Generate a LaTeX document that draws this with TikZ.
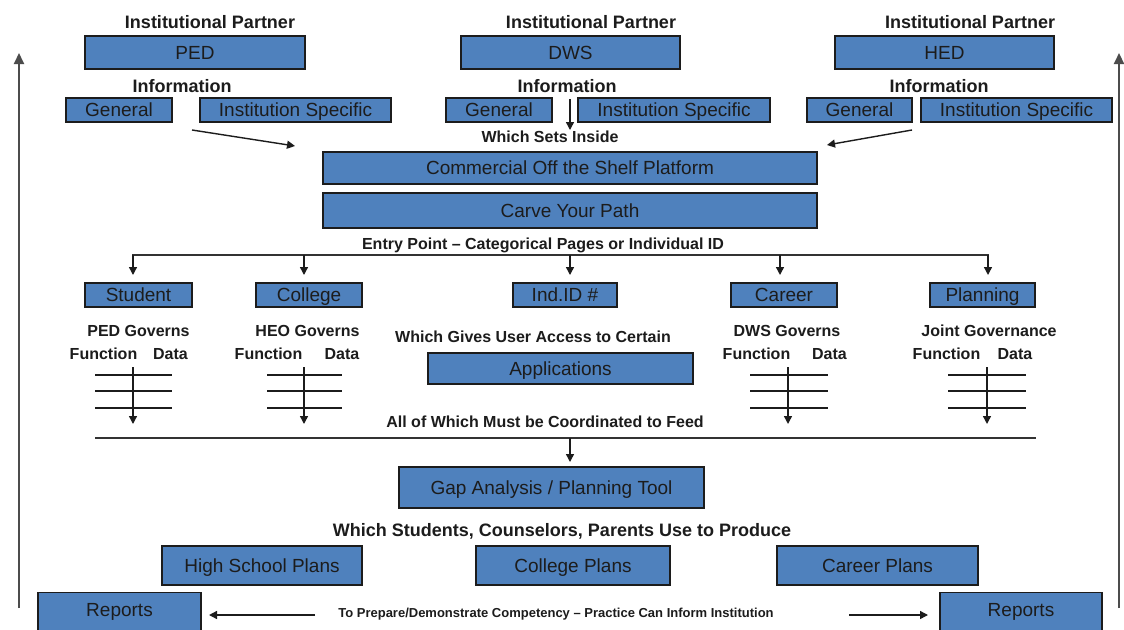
\documentclass[tikz,border=0pt]{standalone}
\usepackage{fontspec}
\setmainfont{Liberation Sans}
\usetikzlibrary{arrows.meta}
\definecolor{boxblue}{RGB}{79,129,189}
\definecolor{ink}{RGB}{28,28,28}
\begin{document}
\begin{tikzpicture}[x=1pt,y=-1pt,
  box/.style={draw=ink, fill=boxblue, line width=1.2pt, inner sep=0pt, text=ink,
              font=\fontsize{19}{22}\selectfont, text height=17.4pt, text depth=3.8pt},
  wh/.style 2 args={minimum width=#1pt, minimum height=#2pt},
  lone/.style={inner sep=0pt, text=ink, font=\fontsize{19}{22}\selectfont,
              text height=17.4pt, text depth=3.8pt},
  head/.style={inner sep=0pt, text=ink, font=\bfseries\fontsize{18}{20}\selectfont},
  note/.style={inner sep=0pt, text=ink, font=\bfseries\fontsize{16}{18}\selectfont},
  small/.style={inner sep=0pt, text=ink, font=\bfseries\fontsize{13}{15}\selectfont},
  link/.style={draw=ink, line width=1.4pt, -{Triangle[length=8pt,width=8pt]}},
  bar/.style={draw=ink!90, line width=1.4pt},
  rung/.style={draw=ink, line width=1.6pt},
  rail/.style={draw=black!70, line width=2pt, -{Triangle[length=11pt,width=10pt]}},
]
\fill[white] (0,0) rectangle (1124,629);
\useasboundingbox (0,0) rectangle (1124,629);
\clip (0,0) rectangle (1124,629);

% ---------- institutional partners ----------
\node[head] (ipA) at (210,22) {Institutional Partner};
\node[head] (ipB) at (591,22) {Institutional Partner};
\node[head] (ipC) at (970,22) {Institutional Partner};
\node[box, wh={220}{33}] (ped) at (195,52.5) {PED};
\node[box, wh={219}{33}] (dws) at (570.5,52.5) {DWS};
\node[box, wh={219}{33}] (hed) at (944.5,52.5) {HED};

\node[head] (infoA) at (182,86) {Information};
\node[head] (infoB) at (567,86) {Information};
\node[head] (infoC) at (939,86) {Information};

\node[box, wh={106}{24}] (genA) at (119,110) {General};
\node[box, wh={191}{24}] (specA) at (295.5,110) {Institution Specific};
\node[box, wh={106}{24}] (genB) at (499,110) {General};
\node[box, wh={192}{24}] (specB) at (674,110) {Institution Specific};
\node[box, wh={105}{24}] (genC) at (859.5,110) {General};
\node[box, wh={191}{24}] (specC) at (1016.5,110) {Institution Specific};

\node[note] (sets) at (550,137) {Which Sets Inside};

% ---------- platform ----------
\node[box, wh={494}{32}] (cots) at (570,168) {Commercial Off the Shelf Platform};
\node[box, wh={494}{35}] (carve) at (570,210.5) {Carve Your Path};

\coordinate (inAs) at (192,130);
\coordinate (inAe) at (295,146);
\coordinate (inBs) at (570,99);
\coordinate (inBe) at (570,130);
\coordinate (inCs) at (912,130);
\coordinate (inCe) at (827,145);
\draw[link] (inAs) -- (inAe);
\draw[link] (inBs) -- (inBe);
\draw[link] (inCs) -- (inCe);

% ---------- entry point ----------
\node[note] (entry) at (543,245) {Entry Point -- Categorical Pages or Individual ID};
\coordinate (eL) at (132,255);
\coordinate (eR) at (989,255);
\draw[bar] (eL) -- (eR);

\node[box, wh={107}{24}] (student) at (138.5,295) {Student};
\node[box, wh={106}{24}] (college) at (309,295) {College};
\node[box, wh={104}{24}] (indid) at (565,295) {Ind.ID \#};
\node[box, wh={106}{24}] (career) at (784,295) {Career};
\node[box, wh={105}{24}] (planning) at (982.5,295) {Planning};

\foreach \x/\n in {133/a,304/b,570/c,780/d,988/e}{
  \coordinate (d\n s) at (\x,255);
  \coordinate (d\n e) at (\x,275);
  \draw[link] (d\n s) -- (d\n e);
}

% ---------- governance ladders ----------
\node[note] (govA) at (138.5,331) {PED Governs};
\node[note] (govB) at (307.5,331) {HEO Governs};
\node[note] (govC) at (787,331) {DWS Governs};
\node[note] (govD) at (989,331) {Joint Governance};

\node[note] (fnA) at (103.5,354) {Function};
\node[note] (dtA) at (170.5,354) {Data};
\node[note] (fnB) at (268.5,354) {Function};
\node[note] (dtB) at (342,354) {Data};
\node[note] (fnC) at (756.5,354) {Function};
\node[note] (dtC) at (829.5,354) {Data};
\node[note] (fnD) at (946.5,354) {Function};
\node[note] (dtD) at (1015,354) {Data};

\foreach \l/\r/\m/\n in {95/172/133/A,267/342/304/B,750/828/788/C,948/1026/987/D}{
  \foreach \y in {375,391,408}{
    \draw[rung] (\l,\y) -- (\r,\y);
  }
  \coordinate (lad\n s) at (\m,367);
  \coordinate (lad\n e) at (\m,424);
  \draw[link] (lad\n s) -- (lad\n e);
}

% ---------- applications ----------
\node[note] (access) at (533,337) {Which Gives User Access to Certain};
\node[box, wh={265}{31}] (apps) at (560.5,368.5) {Applications};

\node[note] (feed) at (545,422) {All of Which Must be Coordinated to Feed};
\coordinate (fL) at (95,438);
\coordinate (fR) at (1036,438);
\draw[bar] (fL) -- (fR);
\coordinate (gs) at (570,438);
\coordinate (ge) at (570,462);
\draw[link] (gs) -- (ge);

% ---------- planning tool and plans ----------
\node[box, wh={305}{41}] (gap) at (551.5,487.5) {Gap Analysis / Planning Tool};
\node[head] (use) at (562,531) {Which Students, Counselors, Parents Use to Produce};
\node[box, wh={200}{39}] (hsp) at (262,565.5) {High School Plans};
\node[box, wh={194}{39}] (colp) at (573,565.5) {College Plans};
\node[box, wh={201}{39}] (carp) at (877.5,565.5) {Career Plans};

% ---------- reports (boxes run off the bottom edge) ----------
\node[box, wh={163}{42}, anchor=north] (repL) at (119.5,592) {};
\node[box, wh={162}{42}, anchor=north] (repR) at (1021,592) {};
\node[lone] (repLt) at (119.5,610) {Reports};
\node[lone] (repRt) at (1021,610) {Reports};

\node[small] (prep) at (556,614) {To Prepare/Demonstrate Competency -- Practice Can Inform Institution};
\coordinate (pLs) at (315,615);
\coordinate (pLe) at (209,615);
\coordinate (pRs) at (849,615);
\coordinate (pRe) at (928,615);
\draw[link] (pLs) -- (pLe);
\draw[link] (pRs) -- (pRe);

% ---------- feedback rails ----------
\coordinate (railLs) at (19,608);
\coordinate (railLe) at (19,53);
\coordinate (railRs) at (1119,608);
\coordinate (railRe) at (1119,53);
\draw[rail] (railLs) -- (railLe);
\draw[rail] (railRs) -- (railRe);
\end{tikzpicture}
\end{document}
